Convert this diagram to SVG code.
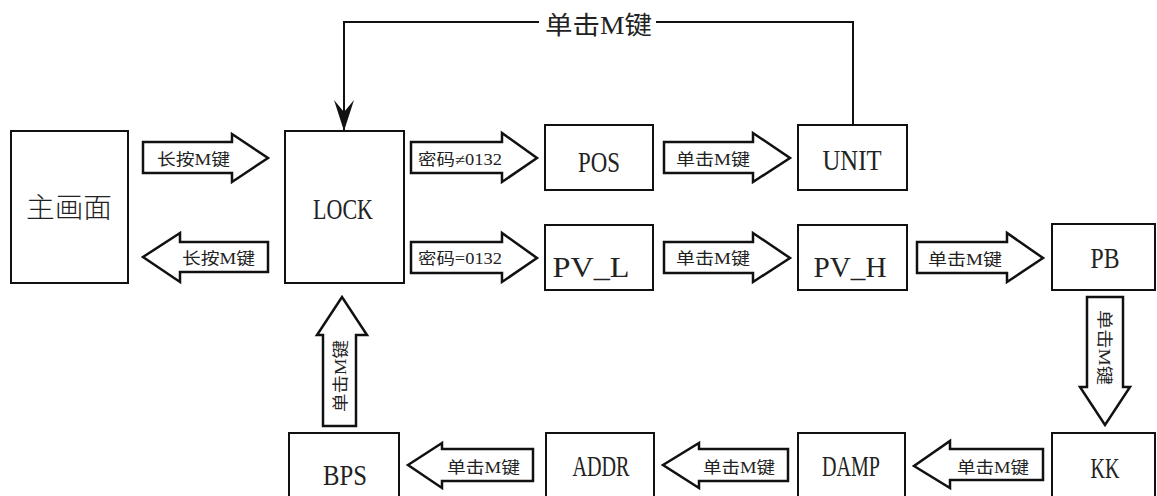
<svg xmlns="http://www.w3.org/2000/svg" width="1157" height="496" viewBox="0 0 1157 496">
<style>
.box{fill:#fff;stroke:#111;stroke-width:2}
.arr{fill:#fff;stroke:#111;stroke-width:2.5;stroke-linejoin:miter}
.line{fill:none;stroke:#111;stroke-width:2}
.big{font-family:"Liberation Serif","Noto Sans CJK SC",serif;font-size:30px;fill:#222;text-anchor:middle}
.cn{font-family:"Noto Sans CJK SC","Liberation Serif",sans-serif;font-size:28px;font-weight:300;fill:#222;text-anchor:middle}
.lbl{font-family:"Liberation Serif","Noto Sans CJK SC",serif;font-size:16px;fill:#222}
.top{font-family:"Liberation Serif","Noto Sans CJK SC",serif;font-size:25px;fill:#222}
</style>
<defs>
<marker id="ah" markerUnits="userSpaceOnUse" markerWidth="24" markerHeight="36" viewBox="0 0 24 36" refX="12" refY="34" orient="0">
<path d="M2,3 L12,15 L22,3 L12,34 Z" fill="#111"/>
</marker>
</defs>
<rect width="1157" height="496" fill="#fff"/>
<g id="connectors">
<path class="line" d="M853,125 V22 H656"/>
<path class="line" d="M539,22 H344 V131" marker-end="url(#ah)"/>
<text class="top" x="545" y="34" textLength="107" lengthAdjust="spacingAndGlyphs">单击M键</text>
<g id="a1"><polygon class="arr" points="143,142 232,142 232,134 268,158 232,182 232,173 143,173"/>
<text class="lbl" x="157" y="165" textLength="73" lengthAdjust="spacingAndGlyphs">长按M键</text></g>
<g id="a2"><polygon class="arr" points="268,242 180,242 180,233 143,257 180,282 180,272 268,272"/>
<text class="lbl" x="182" y="264" textLength="73" lengthAdjust="spacingAndGlyphs">长按M键</text></g>
<g id="a3"><polygon class="arr" points="411,142 502,142 502,133 537,158 502,182 502,173 411,173"/>
<text class="lbl" x="418" y="165" textLength="84" lengthAdjust="spacingAndGlyphs">密码≠0132</text></g>
<g id="a4"><polygon class="arr" points="411,242 502,242 502,233 537,258 502,282 502,273 411,273"/>
<text class="lbl" x="418" y="264" textLength="84" lengthAdjust="spacingAndGlyphs">密码=0132</text></g>
<g id="a5"><polygon class="arr" points="664,142 753,142 753,133 790,158 753,182 753,173 664,173"/>
<text class="lbl" x="676" y="165" textLength="74" lengthAdjust="spacingAndGlyphs">单击M键</text></g>
<g id="a6"><polygon class="arr" points="664,242 753,242 753,233 790,258 753,282 753,273 664,273"/>
<text class="lbl" x="676" y="264" textLength="74" lengthAdjust="spacingAndGlyphs">单击M键</text></g>
<g id="a7"><polygon class="arr" points="917,242 1007,242 1007,233 1043,258 1007,282 1007,273 917,273"/>
<text class="lbl" x="928" y="265" textLength="74" lengthAdjust="spacingAndGlyphs">单击M键</text></g>
<g id="a8"><polygon class="arr" points="1087,297 1123,297 1123,387 1130,387 1105,425 1080,387 1087,387"/>
<text class="lbl" transform="translate(1099,310) rotate(90)" x="0" y="0" textLength="75" lengthAdjust="spacingAndGlyphs">单击M键</text></g>
<g id="a9"><polygon class="arr" points="1043,449 950,449 950,441 914,466 950,488 950,480 1043,480"/>
<text class="lbl" x="957" y="473" textLength="72" lengthAdjust="spacingAndGlyphs">单击M键</text></g>
<g id="a10"><polygon class="arr" points="788,449 699,449 699,443 663,465 699,488 699,481 788,481"/>
<text class="lbl" x="703" y="473" textLength="72" lengthAdjust="spacingAndGlyphs">单击M键</text></g>
<g id="a11"><polygon class="arr" points="533,449 442,449 442,443 408,465 442,488 442,481 533,481"/>
<text class="lbl" x="447" y="473" textLength="73" lengthAdjust="spacingAndGlyphs">单击M键</text></g>
<g id="a12"><polygon class="arr" points="323,426 323,335 317,335 342,297 367,335 356,335 356,426"/>
<text class="lbl" transform="translate(346,412) rotate(-90)" x="0" y="0" textLength="72" lengthAdjust="spacingAndGlyphs">单击M键</text></g>
</g>
<g id="n-main"><rect class="box" x="11" y="131" width="117" height="152"/><text class="cn" x="69" y="218" textLength="86" lengthAdjust="spacingAndGlyphs">主画面</text></g>
<g id="n-lock"><rect class="box" x="285" y="131" width="119" height="152"/><text class="big" x="343" y="219" textLength="60" lengthAdjust="spacingAndGlyphs">LOCK</text></g>
<g id="n-pos"><rect class="box" x="545" y="125" width="108" height="65"/><text class="big" x="599" y="172" textLength="42" lengthAdjust="spacingAndGlyphs">POS</text></g>
<g id="n-unit"><rect class="box" x="798" y="125" width="109" height="65"/><text class="big" x="852" y="170" textLength="59" lengthAdjust="spacingAndGlyphs">UNIT</text></g>
<g id="n-pvl"><rect class="box" x="545" y="225" width="108" height="65"/><text class="big" x="591" y="277" textLength="77" lengthAdjust="spacingAndGlyphs">PV_L</text></g>
<g id="n-pvh"><rect class="box" x="798" y="225" width="109" height="65"/><text class="big" x="850" y="277" textLength="73" lengthAdjust="spacingAndGlyphs">PV_H</text></g>
<g id="n-pb"><rect class="box" x="1052" y="224" width="103" height="66"/><text class="big" x="1105" y="268" textLength="29" lengthAdjust="spacingAndGlyphs">PB</text></g>
<g id="n-kk"><rect class="box" x="1052" y="433" width="103" height="80"/><text class="big" x="1105" y="478" textLength="29" lengthAdjust="spacingAndGlyphs">KK</text></g>
<g id="n-damp"><rect class="box" x="798" y="433" width="107" height="80"/><text class="big" x="851" y="476" textLength="58" lengthAdjust="spacingAndGlyphs">DAMP</text></g>
<g id="n-addr"><rect class="box" x="546" y="433" width="108" height="80"/><text class="big" x="601" y="476" textLength="57" lengthAdjust="spacingAndGlyphs">ADDR</text></g>
<g id="n-bps"><rect class="box" x="289" y="433" width="110" height="80"/><text class="big" x="345" y="485" textLength="44" lengthAdjust="spacingAndGlyphs">BPS</text></g>
</svg>
